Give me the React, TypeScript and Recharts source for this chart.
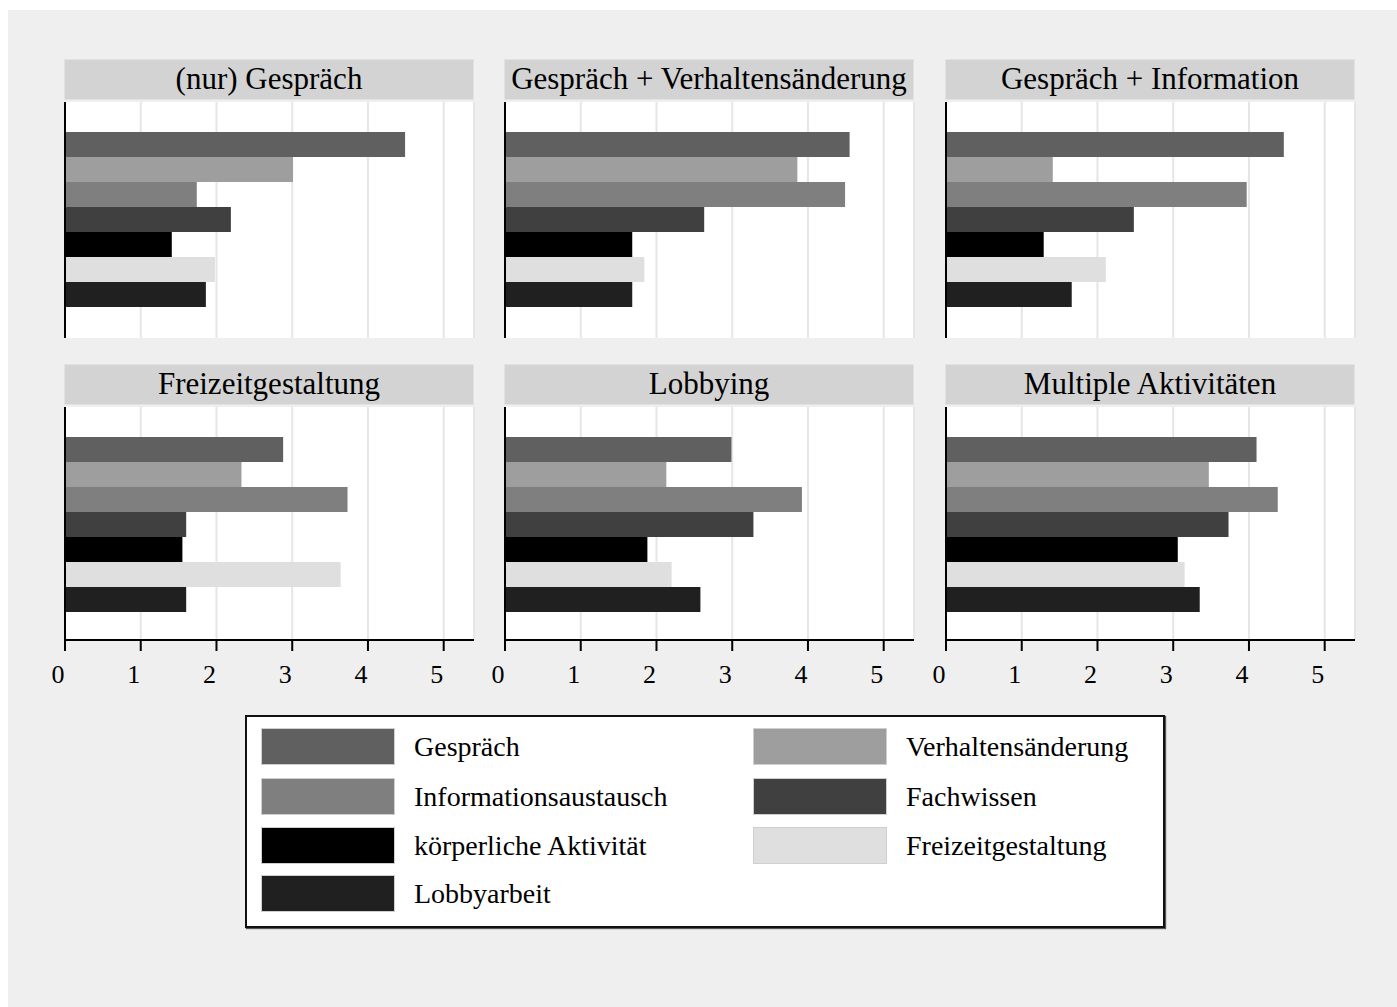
import { BarChart, Bar, XAxis, YAxis, CartesianGrid, ReferenceLine } from "recharts";

const SERIES = [
  "Gespräch",
  "Verhaltensänderung",
  "Informationsaustausch",
  "Fachwissen",
  "körperliche Aktivität",
  "Freizeitgestaltung",
  "Lobbyarbeit",
];
const COLORS = ["#606060", "#9e9e9e", "#7f7f7f", "#404040", "#000000", "#dfdfdf", "#202020"];

const PANELS = [
  "(nur) Gespräch",
  "Gespräch + Verhaltensänderung",
  "Gespräch + Information",
  "Freizeitgestaltung",
  "Lobbying",
  "Multiple Aktivitäten",
];

// one value per panel, same order as PANELS
const gespraech = [4.49, 4.55, 4.46, 2.88, 2.99, 4.1];
const verhalten = [3.01, 3.86, 1.41, 2.33, 2.13, 3.47];
const information = [1.74, 4.49, 3.97, 3.73, 3.92, 4.38];
const fachwissen = [2.19, 2.63, 2.48, 1.6, 3.28, 3.73];
const koerper = [1.41, 1.68, 1.29, 1.55, 1.88, 3.06];
const freizeit = [1.98, 1.84, 2.11, 3.64, 2.2, 3.15];
const lobby = [1.86, 1.68, 1.66, 1.6, 2.58, 3.35];

const X_TICKS = [0, 1, 2, 3, 4, 5];

const SERIF = '"Liberation Serif", "Times New Roman", serif';
const COL_X = [65, 505, 946];
const ROWS = [
  { titleTop: 59, plotTop: 102, plotBottom: 338 },
  { titleTop: 364, plotTop: 407, plotBottom: 640 },
];
const PLOT_W = 409;
const LM = 20;
const RM = 10;

const XTick = (props: any) => {
  const { x, y, payload } = props;
  return (
    <text x={x - 7} y={y + 30} textAnchor="middle" fontSize={26} fontFamily={SERIF} fill="#000">
      {payload.value}
    </text>
  );
};

function Panel({ idx }: { idx: number }) {
  const col = idx % 3;
  const r = Math.floor(idx / 3);
  const row = ROWS[r];
  const showAxis = r === 1;
  const plotH = row.plotBottom - row.plotTop;
  const values = [gespraech, verhalten, information, fachwissen, koerper, freizeit, lobby];
  const entry: Record<string, string | number> = { name: PANELS[idx] };
  values.forEach((v, i) => {
    entry[`k${i}`] = v[idx];
  });
  const axisX = COL_X[col];

  return (
    <>
      <div
        style={{
          position: "absolute",
          left: axisX - 1,
          top: row.titleTop,
          width: PLOT_W + 1,
          height: 41,
          background: "#d3d3d3",
          border: "1px solid #e2e2e2",
          boxSizing: "border-box",
          fontFamily: SERIF,
          fontSize: 31,
          lineHeight: "37px",
          textAlign: "center",
          whiteSpace: "nowrap",
          color: "#000",
        }}
      >
        {PANELS[idx]}
      </div>
      <div style={{ position: "absolute", left: axisX - LM, top: row.plotTop }}>
        <BarChart
          width={PLOT_W + LM + RM}
          height={plotH + (showAxis ? 52 : 0)}
          data={[entry]}
          layout="vertical"
          margin={{ top: 0, right: RM, bottom: 0, left: LM }}
          barCategoryGap={30}
          barGap={0}
        >
          <CartesianGrid horizontal={false} stroke="#e6e6e6" strokeWidth={2} fill="#ffffff" />
          <XAxis
            type="number"
            domain={[0, 5.4]}
            ticks={X_TICKS}
            hide={!showAxis}
            height={52}
            axisLine={{ stroke: "#000", strokeWidth: 2 }}
            tickLine={{ stroke: "#000", strokeWidth: 2 }}
            tickSize={11}
            tick={<XTick />}
          />
          <YAxis type="category" dataKey="name" hide />
          {SERIES.map((s, i) => (
            <Bar key={s} dataKey={`k${i}`} name={s} fill={COLORS[i]} isAnimationActive={false} />
          ))}
          <ReferenceLine x={0} stroke="#000" strokeWidth={2} />
        </BarChart>
      </div>
    </>
  );
}

function Legend() {
  return (
    <div
      style={{
        position: "absolute",
        left: 245,
        top: 715,
        width: 920,
        height: 213,
        background: "#fff",
        border: "2px solid #111",
        boxShadow: "1px 1px 1px #555",
        boxSizing: "border-box",
      }}
    >
      {SERIES.map((s, i) => {
        const c = i % 2;
        const rr = Math.floor(i / 2);
        const top = [11, 61, 110, 158][rr];
        return (
          <div key={s} style={{ position: "absolute", left: c === 0 ? 14 : 506, top }}>
            <div
              style={{
                position: "absolute",
                left: 0,
                top: 0,
                width: 134,
                height: 37,
                background: COLORS[i],
                border: "1px solid #cfcfcf",
                boxSizing: "border-box",
              }}
            />
            <div
              style={{
                position: "absolute",
                left: 153,
                top: 0,
                height: 37,
                lineHeight: "37px",
                fontFamily: SERIF,
                fontSize: 28,
                whiteSpace: "nowrap",
                color: "#000",
              }}
            >
              {s}
            </div>
          </div>
        );
      })}
    </div>
  );
}

export default function App() {
  return (
    <div style={{ position: "fixed", left: 0, top: 0, width: 1397, height: 1007, background: "#fff" }}>
      <div style={{ position: "absolute", left: 8, top: 10, right: 0, bottom: 0, background: "#efefef" }} />
      {PANELS.map((p, i) => (
        <Panel key={p} idx={i} />
      ))}
      <Legend />
    </div>
  );
}
